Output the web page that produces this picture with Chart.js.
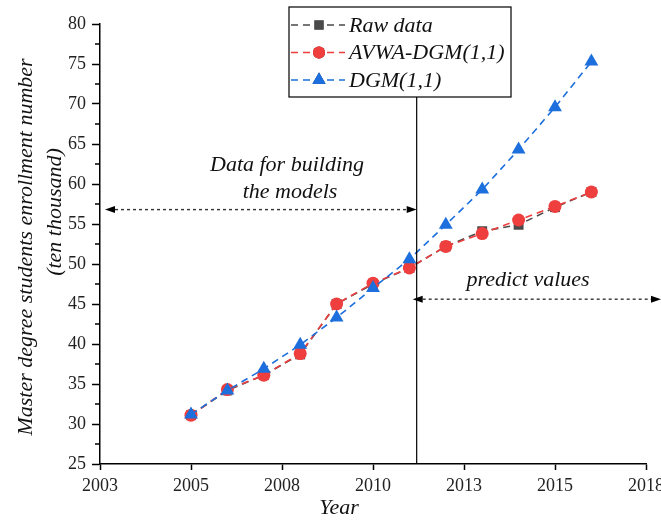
<!DOCTYPE html>
<html lang="en">
<head>
<meta charset="UTF-8">
<script src="https://cdn.jsdelivr.net/npm/chart.js"></script>
<title>Master degree students enrollment</title>
<style>
    body {
        margin: 0;
        background-color: #ffffff;
    }

    .chart-container {
        width: 661px;
        height: 521px;
        position: relative;
    }
</style>
</head>
<body>
<div class="chart-container">
    <canvas id="chart"></canvas>
</div>
<script>
    // data
    const years = [2005, 2006, 2007, 2008, 2009, 2010, 2011, 2012, 2013, 2014, 2015, 2016];
    const rawData = [31.1, 34.2, 36.1, 38.7, 45.0, 47.5, 49.5, 52.2, 54.1, 54.9, 57.1, 59.0];
    const avwaData = [31.1, 34.3, 36.1, 38.8, 45.0, 47.6, 49.5, 52.2, 53.8, 55.5, 57.2, 59.0];
    const dgmData = [31.2, 34.2, 36.9, 39.9, 43.3, 47.0, 50.6, 54.9, 59.3, 64.3, 69.6, 75.3];
    const seriesNames = ['Raw data', 'AVWA-DGM(1,1)', 'DGM(1,1)'];
    const xTickLabels = ['2003', '2005', '2008', '2010', '2013', '2015', '2018'];
    const yMinorTicks = [27.5, 32.5, 37.5, 42.5, 47.5, 52.5, 57.5, 62.5, 67.5, 72.5, 77.5];

    const splitYear = 2011.2;
    const buildArrowY = 56.8;
    const predictArrowY = 45.6;

    const SERIF = "'Liberation Serif', 'Times New Roman', serif";
    const colors = ['#4a4a4a', '#ee3e3e', '#1c6fdc'];
    const styles = ['rect', 'circle', 'triangle'];
    const radii = [7, 6.5, 8];

    function toPoints(values) {
        return values.map((v, i) => ({x: years[i], y: v}));
    }

    function makeSet(i, values, order) {
        return {
            label: seriesNames[i],
            data: toPoints(values),
            borderColor: colors[i],
            backgroundColor: colors[i],
            borderWidth: 1.6,
            borderDash: [7, 5],
            pointStyle: styles[i],
            pointRadius: radii[i],
            pointBorderWidth: 0,
            pointBackgroundColor: colors[i],
            tension: 0,
            order: order
        };
    }

    function arrowHead(ctx, x, y, dir) {
        ctx.beginPath();
        ctx.moveTo(x, y);
        ctx.lineTo(x - dir * 10, y - 3.5);
        ctx.lineTo(x - dir * 10, y + 3.5);
        ctx.closePath();
        ctx.fill();
    }

    function dottedArrow(ctx, x1, x2, y) {
        ctx.save();
        ctx.strokeStyle = '#333';
        ctx.fillStyle = '#000';
        ctx.lineWidth = 1.4;
        ctx.setLineDash([3, 3]);
        ctx.beginPath();
        ctx.moveTo(x1 + 4, y);
        ctx.lineTo(x2 - 4, y);
        ctx.stroke();
        ctx.setLineDash([]);
        arrowHead(ctx, x1, y, -1);
        arrowHead(ctx, x2, y, 1);
        ctx.restore();
    }

    const minorTicks = {
        id: 'minorTicks',
        afterDraw(chart) {
            const ctx = chart.ctx;
            const ys = chart.scales.y;
            const left = chart.chartArea.left;
            ctx.save();
            ctx.strokeStyle = '#000';
            ctx.lineWidth = 1.5;
            yMinorTicks.forEach(v => {
                const py = ys.getPixelForValue(v);
                ctx.beginPath();
                ctx.moveTo(left - 5, py);
                ctx.lineTo(left, py);
                ctx.stroke();
            });
            ctx.restore();
        }
    };

    const overlay = {
        id: 'overlay',
        afterDraw(chart) {
            const ctx = chart.ctx;
            const xs = chart.scales.x;
            const ys = chart.scales.y;
            const area = chart.chartArea;
            const splitX = xs.getPixelForValue(splitYear);

            // legend box
            const lx = 289, ly = 7, lw = 222, lh = 90;
            ctx.save();
            ctx.fillStyle = '#fff';
            ctx.fillRect(lx, ly, lw, lh);
            ctx.strokeStyle = '#000';
            ctx.lineWidth = 1.2;
            ctx.strokeRect(lx, ly, lw, lh);
            seriesNames.forEach((name, i) => {
                const ry = ly + 18 + i * 27.5;
                ctx.strokeStyle = colors[i];
                ctx.lineWidth = 1.6;
                ctx.setLineDash([7, 5]);
                ctx.beginPath();
                ctx.moveTo(lx + 2, ry);
                ctx.lineTo(lx + 56, ry);
                ctx.stroke();
                ctx.setLineDash([]);
                Chart.helpers.drawPoint(ctx, {
                    pointStyle: styles[i], radius: radii[i] - 0.5, borderWidth: 0
                }, lx + 30, ry);
                ctx.fillStyle = colors[i];
                Chart.helpers.drawPoint(ctx, {
                    pointStyle: styles[i], radius: radii[i] - 0.5, borderWidth: 0
                }, lx + 30, ry);
                ctx.fill();
                ctx.fillStyle = '#111';
                ctx.font = 'italic 22px ' + SERIF;
                ctx.textAlign = 'left';
                ctx.textBaseline = 'middle';
                ctx.fillText(name, lx + 60, ry + 1);
            });
            ctx.restore();

            // split line
            ctx.save();
            ctx.strokeStyle = '#000';
            ctx.lineWidth = 1.2;
            ctx.beginPath();
            ctx.moveTo(splitX, ly + lh);
            ctx.lineTo(splitX, area.bottom);
            ctx.stroke();
            ctx.restore();

            // arrows
            dottedArrow(ctx, area.left + 5, splitX, ys.getPixelForValue(buildArrowY));
            dottedArrow(ctx, splitX - 4, chart.width, ys.getPixelForValue(predictArrowY));

            // annotation text
            ctx.save();
            ctx.fillStyle = '#111';
            ctx.font = 'italic 22px ' + SERIF;
            ctx.textAlign = 'center';
            ctx.textBaseline = 'middle';
            ctx.fillText('Data for building', 287, 165);
            ctx.fillText('the models', 290, 192);
            ctx.fillText('predict values', 528, 280);

            // axis titles
            ctx.fillText('Year', 339, 508);
            ctx.save();
            ctx.translate(26, 247);
            ctx.rotate(-Math.PI / 2);
            ctx.fillText('Master degree students enrollment number', 0, 0);
            ctx.restore();
            ctx.save();
            ctx.translate(55, 212);
            ctx.rotate(-Math.PI / 2);
            ctx.fillText('(ten thousand)', 0, 0);
            ctx.restore();
            ctx.restore();
        }
    };

    const ctx = document.getElementById('chart').getContext('2d');
    const chart = new Chart(ctx, {
        type: 'line',
        data: {
            datasets: [
                makeSet(0, rawData, 3),
                makeSet(1, avwaData, 2),
                makeSet(2, dgmData, 1)
            ]
        },
        options: {
            responsive: true,
            maintainAspectRatio: false,
            animation: false,
            layout: {padding: {top: 24, right: 15, left: 0, bottom: 0}},
            plugins: {
                legend: {display: false},
                tooltip: {enabled: false}
            },
            scales: {
                x: {
                    type: 'linear',
                    min: 2002.5,
                    max: 2017.5,
                    border: {color: '#000', width: 1.5},
                    grid: {drawOnChartArea: false, tickColor: '#000', tickLength: 6, tickWidth: 1.5},
                    ticks: {
                        stepSize: 2.5,
                        color: '#222',
                        padding: 5,
                        maxRotation: 0,
                        autoSkip: false,
                        font: {family: SERIF, size: 18},
                        callback: (v, i) => xTickLabels[i]
                    },
                    afterFit: s => {
                        s.height = 57;
                        s.paddingLeft = 0;
                        s.paddingRight = 0;
                    }
                },
                y: {
                    min: 25,
                    max: 80,
                    border: {color: '#000', width: 1.5},
                    grid: {drawOnChartArea: false, tickColor: '#000', tickLength: 8, tickWidth: 1.5},
                    ticks: {
                        stepSize: 5,
                        color: '#222',
                        padding: 6,
                        font: {family: SERIF, size: 18}
                    },
                    afterFit: s => {
                        s.width = 100;
                    }
                }
            }
        },
        plugins: [minorTicks, overlay]
    });
</script>
</body>
</html>
